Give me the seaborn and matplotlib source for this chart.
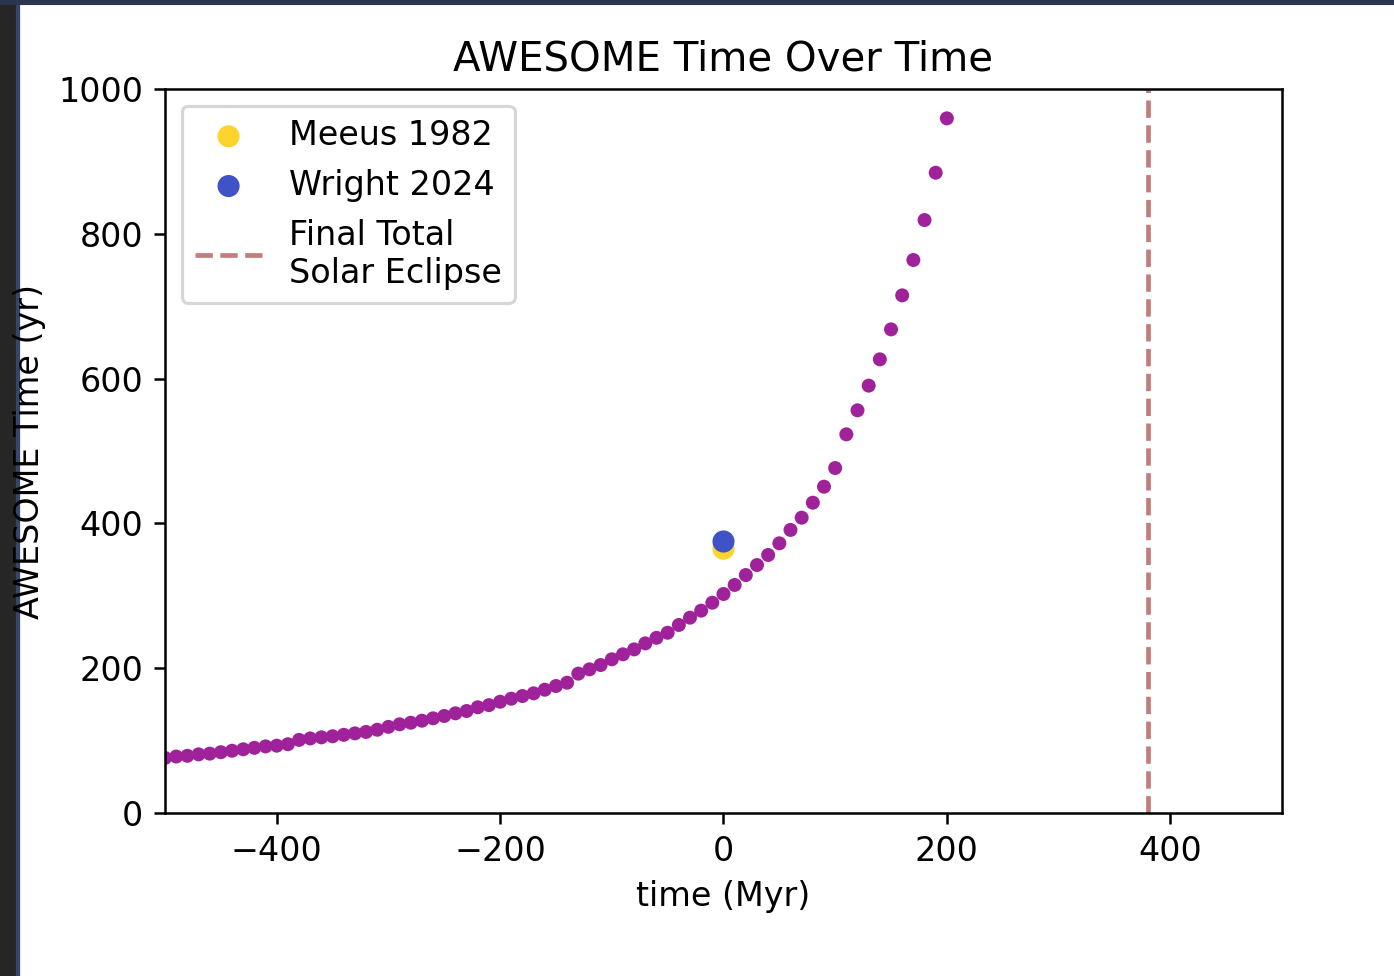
import numpy as np
import pandas as pd
import matplotlib
matplotlib.use("Agg")
import matplotlib.pyplot as plt
import seaborn as sns
from matplotlib.patches import Rectangle

# model curve (time in Myr, AWESOME time in yr)
tempo = list(range(-500, 210, 10))
awesome = [76, 78, 79, 81, 82, 84, 86, 88, 90, 92,
           93, 95, 101, 103, 104.5, 106, 108, 110, 112, 115,
           119, 122.5, 124.7, 127.5, 130.8, 134, 137.7, 140.9, 146, 149,
           153.7, 157.9, 161.6, 165.3, 170.3, 175.4, 180, 192.5, 198.4, 204.4,
           212.3, 219.2, 226, 234.3, 242, 249, 259.7, 269.8, 279.5, 290.5,
           302.5, 315, 328.7, 342.5, 356.4, 372.5, 391, 407.9, 428.6, 450.7,
           476.5, 523, 556.2, 590.3, 626.6, 668, 715, 763.8, 819, 884.4,
           959.5]

# present-day estimates
meeus_t, meeus_v = [0], [365]
wright_t, wright_v = [0], [375]

# last total solar eclipse
eclipse_t = 380

curva = pd.DataFrame({"tempo": tempo, "awesome": awesome})

plt.rcParams["font.size"] = 10.7

fig = plt.figure(figsize=(1394 / 225, 976 / 225), dpi=225)
ax = fig.add_axes([0.1184, 0.167, 0.8012, 0.7418])

sns.scatterplot(data=curva, x="tempo", y="awesome", color="#a0229a",
                s=20, edgecolor="none", ax=ax)
sns.scatterplot(x=meeus_t, y=meeus_v, color="#fdd32e", s=50,
                edgecolor="none", label="Meeus 1982", ax=ax)
sns.scatterplot(x=wright_t, y=wright_v, color="#3f52c6", s=50,
                edgecolor="none", label="Wright 2024", ax=ax)
ax.axvline(eclipse_t, color="#c27c7c", linestyle="--", linewidth=1.5,
           label="Final Total\nSolar Eclipse")

ax.set_xlim(-500, 500)
ax.set_ylim(0, 1000)
ax.set_xticks([-400, -200, 0, 200, 400])
ax.set_yticks([0, 200, 400, 600, 800, 1000])
ax.set_title("AWESOME Time Over Time", fontsize=12.9)
ax.set_xlabel("time (Myr)")
ax.set_ylabel("AWESOME Time (yr)")
ax.legend(loc="upper left")

# dark screenshot border on the left and top
fig.patches.append(Rectangle((0, 0), 18 / 1394, 1, transform=fig.transFigure,
                             color="#262626", zorder=-1))
fig.patches.append(Rectangle((17 / 1394, 0), 1 / 1394, 1, transform=fig.transFigure,
                             color="#34466a", zorder=-1))
fig.patches.append(Rectangle((0, 1 - 3 / 976), 1, 3 / 976, transform=fig.transFigure,
                             color="#2a3550", zorder=-1))

fig.savefig("out.png", dpi=225)
